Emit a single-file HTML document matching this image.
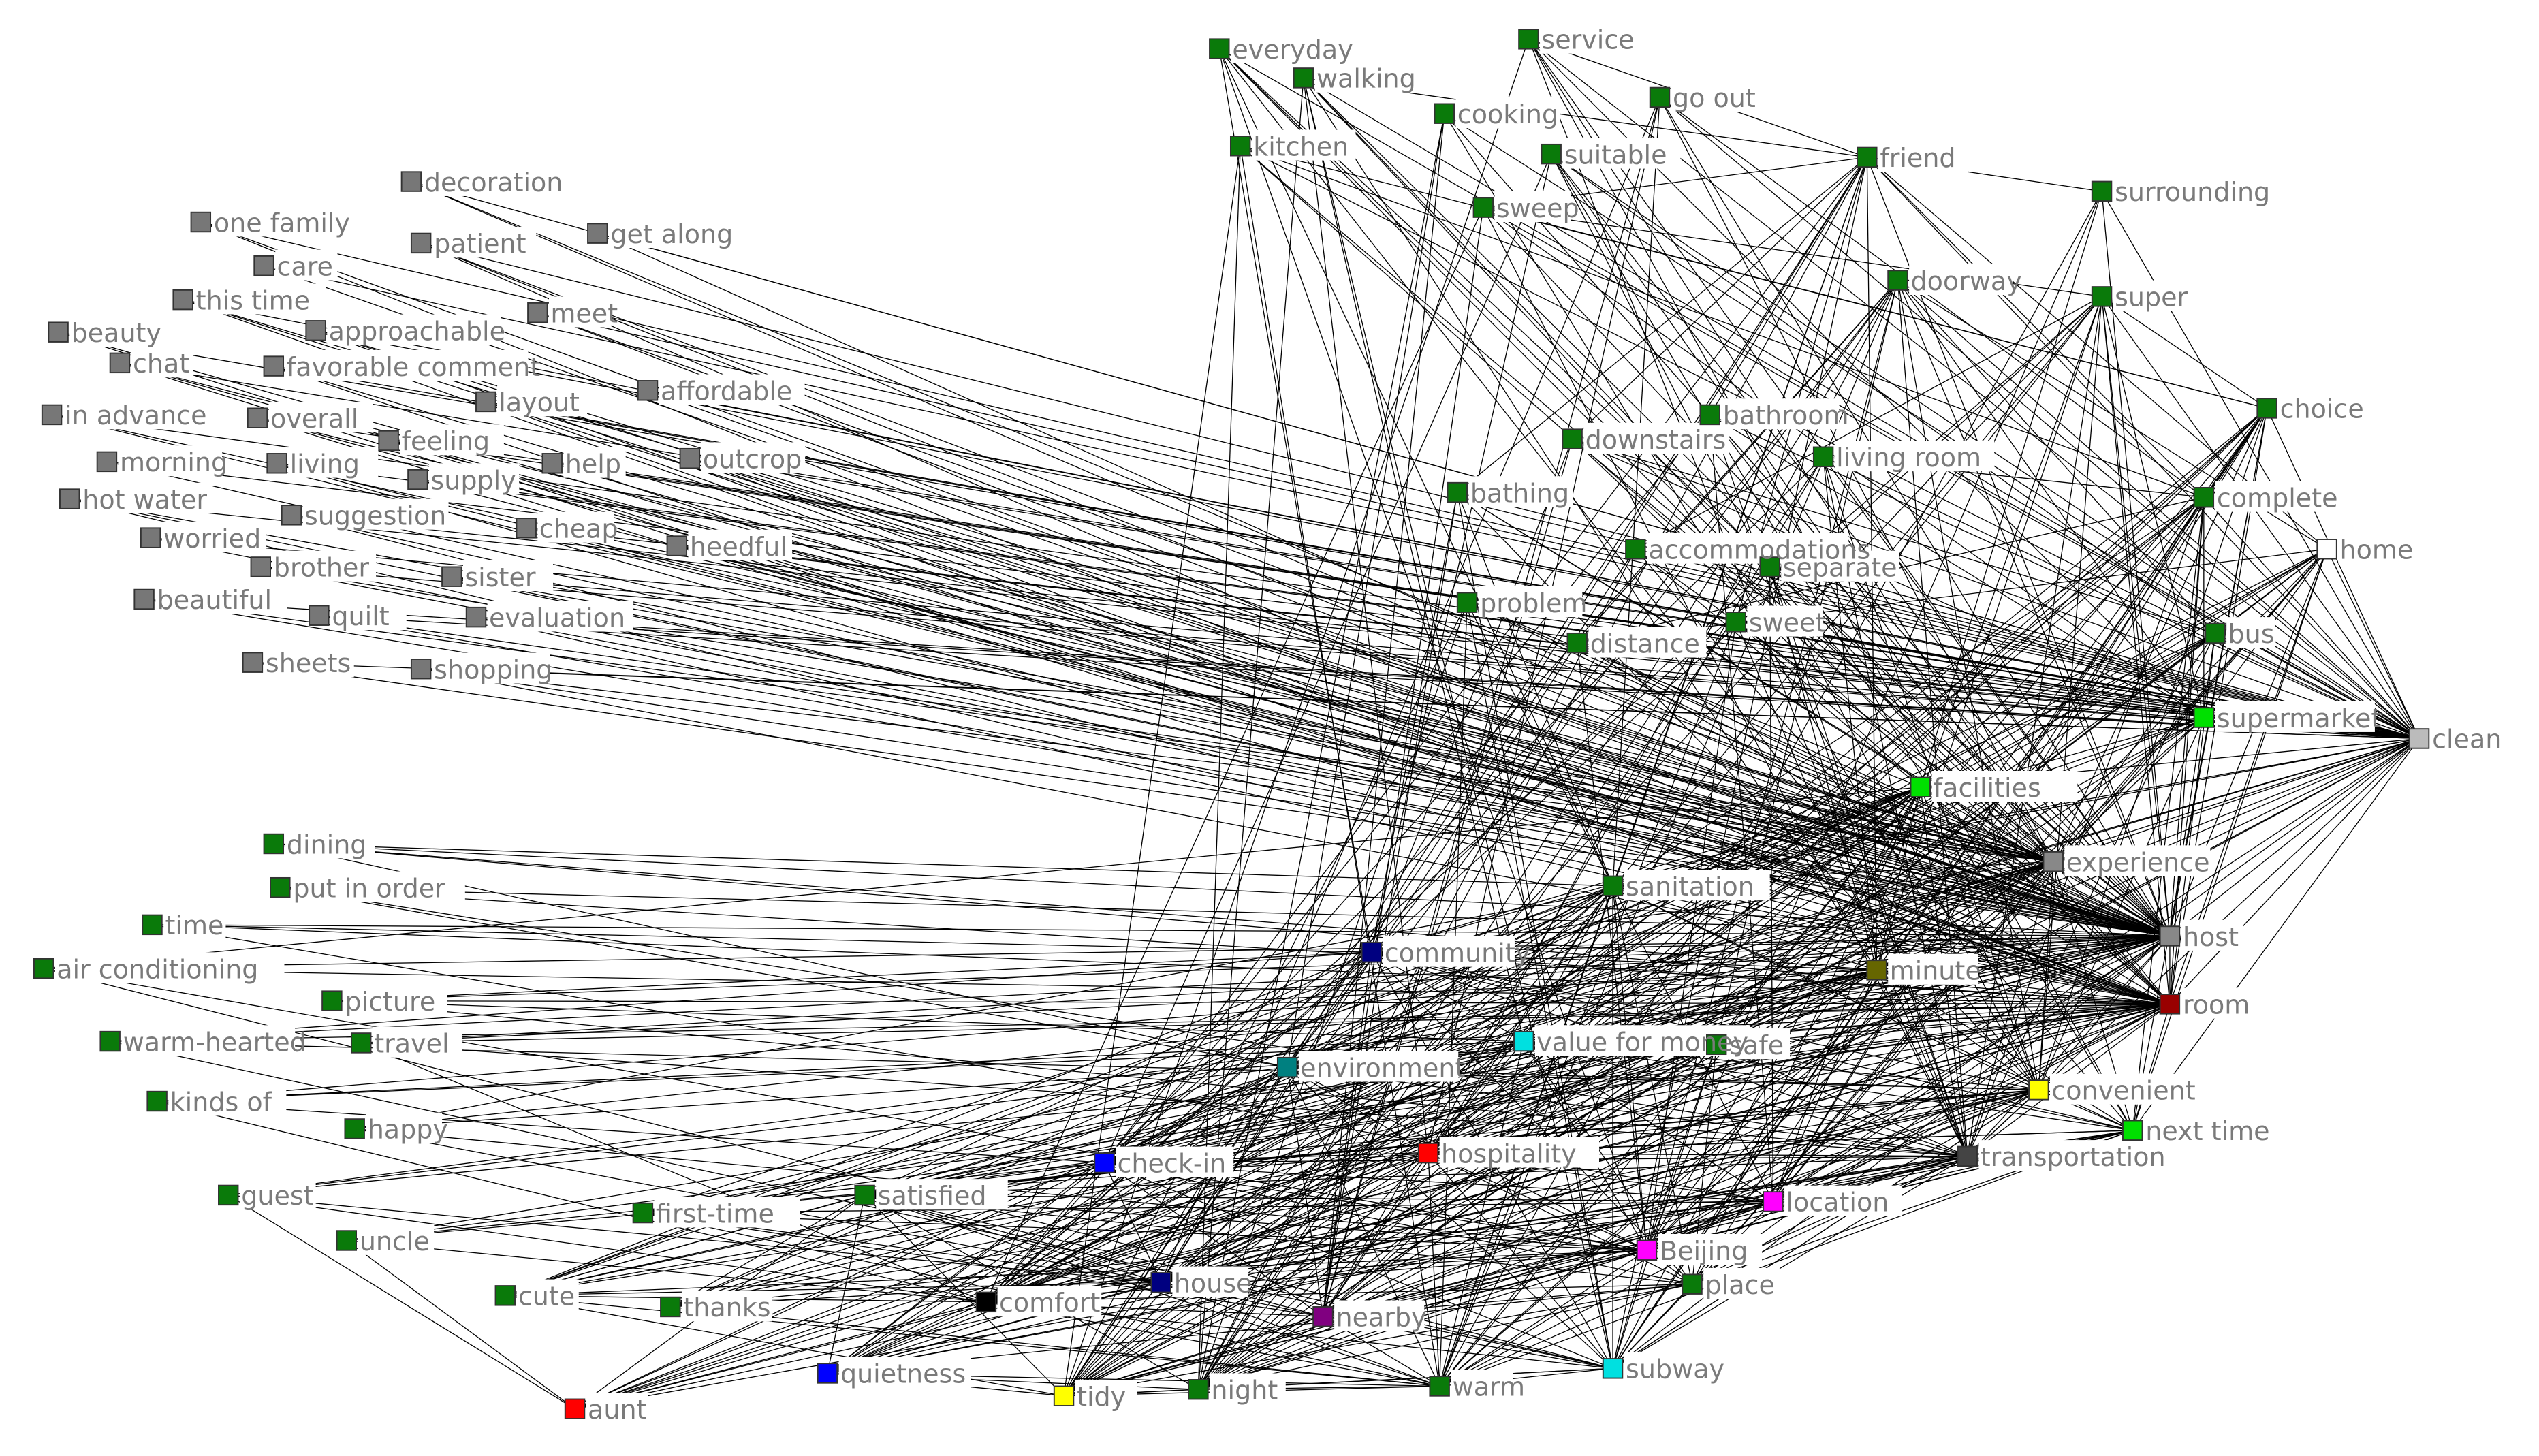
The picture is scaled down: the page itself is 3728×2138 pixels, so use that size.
<!DOCTYPE html>
<html><head><meta charset="utf-8"><style>
html,body{margin:0;padding:0;background:#fff;overflow:hidden}
svg{display:block}
text{font-family:"DejaVu Sans","Liberation Sans",sans-serif;font-size:16px;fill:#7a7a7a}
</style></head><body>
<svg id="g" xmlns="http://www.w3.org/2000/svg" width="3728" height="2138" viewBox="0 0 1568 899"></svg>
<script>
var G='#0a7a0a',Y='#777';
var N=[
["decoration",254,112,Y],["one family",124,137,Y],["patient",260,150,Y],["get along",369,144,Y],["care",163,164,Y],["this time",113,185,Y],["meet",332,193,Y],["beauty",36,205,Y],["approachable",195,204,Y],["chat",74,224,Y],["favorable comment",169,226,Y],["layout",300,248,Y],["affordable",400,241,Y],["in advance",32,256,Y],["overall",159,258,Y],["feeling",240,272,Y],["morning",66,285,Y],["living",171,286,Y],["help",341,286,Y],["outcrop",426,283,Y],["supply",258,296,Y],["hot water",43,308,Y],["suggestion",180,318,Y],["cheap",325,326,Y],["worried",93,332,Y],["heedful",418,337,Y],["brother",161,350,Y],["sister",279,356,Y],["beautiful",89,370,Y],["quilt",197,380,Y],["evaluation",294,381,Y],["sheets",156,409,Y],["shopping",260,413,Y],
["everyday",753,30,G],["walking",805,48,G],["service",944,24,G],["go out",1025,60,G],["cooking",892,70,G],["kitchen",766,90,G],["suitable",958,95,G],["friend",1153,97,G],["surrounding",1298,118,G],["sweep",916,128,G],["doorway",1172,173,G],["super",1298,183,G],["choice",1400,252,G],["bathroom",1056,256,G],["downstairs",971,271,G],["living room",1126,282,G],["bathing",900,304,G],["complete",1361,307,G],["separate",1093,350,G],["accommodations",1010,339,G],["home",1437,339,'#fff'],["problem",906,372,G],["sweet",1072,384,G],["distance",974,397,G],["bus",1368,391,G],["supermarket",1361,443,'#00e000'],["clean",1494,456,'#bbb'],["facilities",1186,486,'#00e000'],["experience",1268,532,'#888'],["host",1340,578,'#888'],["room",1340,620,'#990000'],["sanitation",996,547,G],["community",847,588,'#000080'],["minute",1159,599,'#666600'],["safe",1060,645,G],["value for money",941,643,'#00e0e0'],["environment",795,659,'#008080'],["convenient",1259,673,'#ffff00'],["next time",1317,698,'#00e000'],["hospitality",882,712,'#ff0000'],["check-in",682,718,'#0000ff'],["transportation",1215,714,'#444'],["location",1095,742,'#ff00ff'],["Beijing",1017,772,'#ff00ff'],["place",1045,793,G],["house",717,792,'#000080'],["comfort",609,804,'#000'],["nearby",817,813,'#800080'],["subway",996,845,'#00e0e0'],["warm",889,856,G],["night",740,858,G],["tidy",657,862,'#ffff00'],["quietness",511,848,'#0000ff'],["aunt",355,870,'#ff0000'],
["dining",169,521,G],["put in order",173,548,G],["time",94,571,G],["air conditioning",27,598,G],["picture",205,618,G],["warm-hearted",68,643,G],["travel",223,644,G],["kinds of",97,680,G],["happy",219,697,G],["guest",141,738,G],["first-time",397,749,G],["satisfied",534,738,G],["uncle",214,766,G],["cute",312,800,G],["thanks",414,807,G]
];
var idx={};N.forEach(function(n,i){idx[n[0]]=i});
var s=12345;function r(){s=(s*16807)%2147483647;return s/2147483647}
var hubs=["clean","host","room","experience","convenient","subway","transportation","Beijing","location","hospitality","check-in","house","value for money","community","environment","facilities","supermarket","sanitation","minute","comfort","nearby","warm","tidy","night","bus","complete","super","doorway","friend","choice","home","next time"];
var E=[],seen={};
function add(a,b){if(a==b)return;var k=a<b?a+'|'+b:b+'|'+a;if(seen[k])return;seen[k]=1;E.push([a,b])}
var main=["clean","host","experience","room","convenient","transportation"];
N.forEach(function(n){
 var nm=n[0];
 if(n[3]==Y){add(nm,"clean");add(nm,"host");if(r()<0.6)add(nm,"experience");if(r()<0.4)add(nm,"room");}
 else if(n[2]>500&&n[1]<560){
  add(nm,"host");add(nm,"room");for(var j=0;j<3;j++)add(nm,hubs[Math.floor(r()*20)]);
 } else {
  var k=n[2]<420?6:10;
  if(n[2]<420){add(nm,"clean");add(nm,"host");}
  for(var j=0;j<k;j++)add(nm,hubs[Math.floor(r()*hubs.length)]);
  add(nm,main[Math.floor(r()*6)]);add(nm,main[Math.floor(r()*6)]);
 }
});
var low=N.filter(function(n){return n[2]>480&&n[1]>480}).map(function(n){return n[0]});
for(var i=0;i<low.length;i++)for(var j=i+1;j<low.length;j++)if(r()<0.45)add(low[i],low[j]);
var low2=N.filter(function(n){return n[2]>700&&n[1]>300&&n[1]<560}).map(function(n){return n[0]});
low2.forEach(function(a){low.forEach(function(b){if(r()<0.35)add(a,b)})});
add("uncle","aunt");add("guest","aunt");
var svg=document.getElementById('g'),h='';
E.forEach(function(e){var a=N[idx[e[0]]],b=N[idx[e[1]]];
 h+='<line x1="'+a[1]+'" y1="'+a[2]+'" x2="'+b[1]+'" y2="'+b[2]+'" stroke="#000" stroke-width="0.55"/>';});
N.forEach(function(n){
 var w=n[0].length*8.6+4;
 h+='<rect x="'+(n[1]+7)+'" y="'+(n[2]-10)+'" width="'+w+'" height="19" fill="#fff"/>';
});
N.forEach(function(n){
 h+='<rect x="'+(n[1]-6)+'" y="'+(n[2]-6)+'" width="12" height="12" fill="'+(n[3]==Y?'#777':n[3])+'" stroke="#333" stroke-width="0.8"/>';
 h+='<text x="'+(n[1]+8)+'" y="'+(n[2]+6)+'">'+n[0]+'</text>';
});
svg.innerHTML=h;
</script>
</body></html>
